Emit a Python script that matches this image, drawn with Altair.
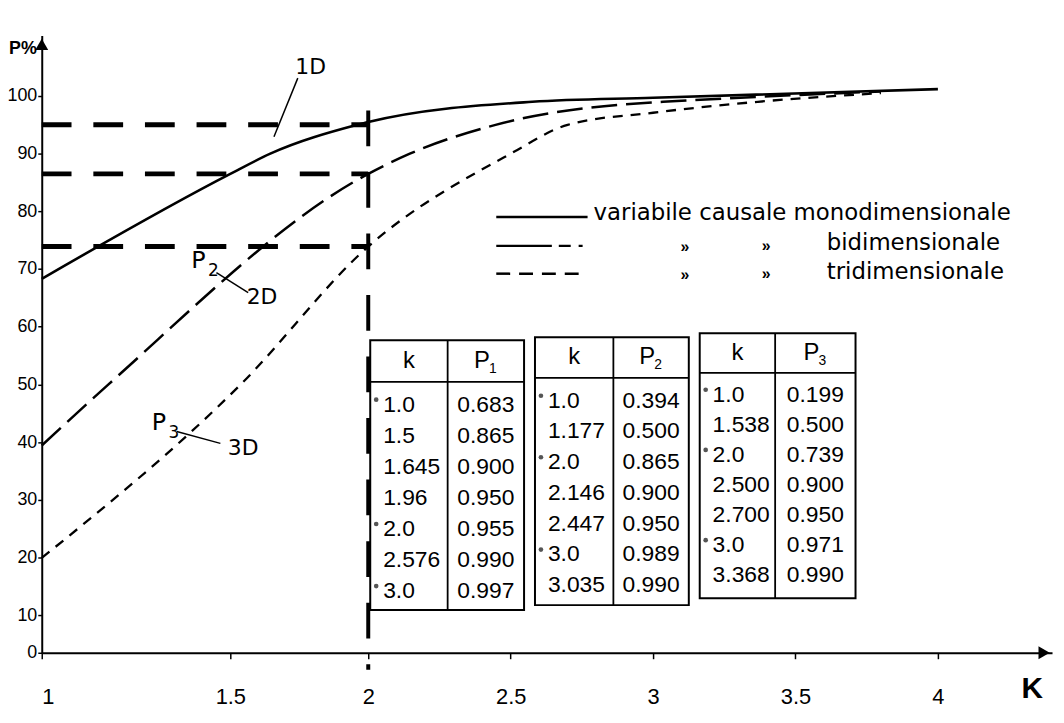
import altair as alt
import numpy as np
import pandas as pd

k1 = [1.0, 1.5, 1.645, 1.96, 2.0, 2.576, 3.0]
p1 = [0.683, 0.865, 0.900, 0.950, 0.955, 0.990, 0.997]
k2 = [1.0, 1.177, 2.0, 2.146, 2.447, 3.0, 3.035]
p2 = [0.394, 0.500, 0.865, 0.900, 0.950, 0.989, 0.990]
k3 = [1.0, 1.538, 2.0, 2.500, 2.700, 3.0, 3.368]
p3 = [0.199, 0.500, 0.739, 0.900, 0.950, 0.971, 0.990]

k1_txt = ["1.0", "1.5", "1.645", "1.96", "2.0", "2.576", "3.0"]
p1_txt = ["0.683", "0.865", "0.900", "0.950", "0.955", "0.990", "0.997"]
k2_txt = ["1.0", "1.177", "2.0", "2.146", "2.447", "3.0", "3.035"]
p2_txt = ["0.394", "0.500", "0.865", "0.900", "0.950", "0.989", "0.990"]
k3_txt = ["1.0", "1.538", "2.0", "2.500", "2.700", "3.0", "3.368"]
p3_txt = ["0.199", "0.500", "0.739", "0.900", "0.950", "0.971", "0.990"]

# where the drawn curves end, in k and %
tail_k = [4.0, 3.8, 3.8]
tail_p = [101.2, 100.8, 100.5]

ref_levels = [95.0, 86.5, 73.9]      # horizontal dashed guides (k from 1 to 2)
ref_k = 2.0                          # vertical dashed guide
x_ticks = [1, 1.5, 2, 2.5, 3, 3.5, 4]
y_ticks = [0, 10, 20, 30, 40, 50, 60, 70, 80, 90, 100]

legend_labels = ["variabile causale monodimensionale", "bidimensionale", "tridimensionale"]
table_headers = ["1", "2", "3"]

# ---------------- layout (the hand-drawn axes are not uniform) ----------------
W, H = 1018, 622
X0, Y0 = 42, 33                       # page position of the plot origin
XDOM, XRNG = [1, 1.5, 2, 4.4007], [0, 190, 329, W]
YDOM, YRNG = [0, 10, 100, 110.5], [H, 584, 61, 0]
FONT = "Liberation Sans"

def _inv(p, rng, dom):
    # piecewise-linear inverse of the scale, extrapolating past both ends
    order = np.argsort(rng)
    r = np.asarray(rng, float)[order]
    d = np.asarray(dom, float)[order]
    if p < r[0]:
        return float(d[0] + (p - r[0]) * (d[1] - d[0]) / (r[1] - r[0]))
    if p > r[-1]:
        return float(d[-1] + (p - r[-1]) * (d[-1] - d[-2]) / (r[-1] - r[-2]))
    return float(np.interp(p, r, d))

def dk(xp):
    return _inv(xp - X0, XRNG, XDOM)

def dp(yp):
    return _inv(yp - Y0, YRNG, YDOM)

xs = alt.Scale(domain=XDOM, range=XRNG, nice=False, zero=False)
ys = alt.Scale(domain=YDOM, range=YRNG, nice=False, zero=False)

def X(f, **kw):
    return alt.X(f, scale=xs, title=None, **kw)

def Y(f, **kw):
    return alt.Y(f, scale=ys, title=None, **kw)

layers = []

# ---------------- curves ----------------
def curve_df(ks, ps, tk, tp):
    return pd.DataFrame({"k": ks + [tk], "P": [v * 100 for v in ps] + [tp]})

c1 = curve_df(k1, p1, tail_k[0], tail_p[0])
c2 = curve_df(k2, p2, tail_k[1], tail_p[1])
c3 = curve_df(k3, p3, tail_k[2], tail_p[2])

axis_common = dict(domainColor="black", domainWidth=2, tickColor="black", tickWidth=1.5,
                   labelColor="black", labelFont=FONT, grid=False, title=None)

layers.append(
    alt.Chart(c1).mark_line(color="black", strokeWidth=2.6, interpolate="monotone").encode(
        x=alt.X("k:Q", scale=xs, title=None,
                axis=alt.Axis(values=x_ticks, format="~g", labelFontSize=22, tickSize=6,
                              labelPadding=28, **axis_common)),
        y=alt.Y("P:Q", scale=ys, title=None,
                axis=alt.Axis(values=y_ticks, format="d", labelFontSize=18, tickSize=4,
                              labelPadding=1, **axis_common)),
    )
)
layers.append(
    alt.Chart(c2).mark_line(color="black", strokeWidth=2.5, strokeDash=[26, 9],
                            interpolate="monotone").encode(x=X("k:Q"), y=Y("P:Q"))
)
layers.append(
    alt.Chart(c3).mark_line(color="black", strokeWidth=2.3, strokeDash=[10, 8],
                            interpolate="monotone").encode(x=X("k:Q"), y=Y("P:Q"))
)

# ---------------- dashed guides ----------------
ref_df = pd.DataFrame({"P": ref_levels, "k1": [1.0] * 3, "k2": [ref_k] * 3})
layers.append(
    alt.Chart(ref_df).mark_rule(color="black", strokeWidth=5, strokeDash=[30, 22]).encode(
        x=X("k1:Q"), x2="k2:Q", y=Y("P:Q"))
)
vdf = pd.DataFrame({"k": [ref_k], "P0": [dp(672)], "P1": [97.5]})
layers.append(
    alt.Chart(vdf).mark_rule(color="black", strokeWidth=4, strokeDash=[36, 26]).encode(
        x=X("k:Q"), y=Y("P1:Q"), y2="P0:Q")
)

# ---------------- axis arrows and axis titles ----------------
arr = pd.DataFrame({"k": [dk(1052), dk(X0)], "P": [dp(Y0 + H), dp(Y0 + 9)],
                    "shape": ["triangle-right", "triangle-up"]})
layers.append(
    alt.Chart(arr).mark_point(filled=True, color="black", size=170, opacity=1).encode(
        x=X("k:Q"), y=Y("P:Q"),
        shape=alt.Shape("shape:N", scale=None, legend=None))
)
ttl = pd.DataFrame({"k": [dk(23), dk(1040)], "P": [dp(47), dp(692)], "t": ["P%", "K"],
                    "s": [18, 30]})
layers.append(
    alt.Chart(ttl).mark_text(font=FONT, fontWeight="bold", color="black").encode(
        x=X("k:Q"), y=Y("P:Q"), text="t:N",
        size=alt.Size("s:Q", scale=None, legend=None))
)

# ---------------- tables ----------------
tables = [
    dict(left=373, right=528, div=451, top=340, hdr=382, bottom=612, row0=405, step=31.3),
    dict(left=539, right=694, div=618, top=337, hdr=378, bottom=607, row0=401, step=31.0),
    dict(left=705, right=862, div=781, top=333, hdr=373, bottom=600, row0=395, step=30.3),
]
k_texts = [k1_txt, k2_txt, k3_txt]
p_texts = [p1_txt, p2_txt, p3_txt]

box_rows, rule_rows, ktxt_rows, ptxt_rows, dot_rows, hdr_rows, sub_rows = [], [], [], [], [], [], []
for t, g in enumerate(tables):
    box_rows.append({"a": dk(g["left"]), "b": dk(g["right"]), "c": dp(g["top"]), "d": dp(g["bottom"])})
    rule_rows.append({"a": dk(g["left"]), "b": dk(g["right"]), "c": dp(g["hdr"]), "d": dp(g["hdr"])})
    rule_rows.append({"a": dk(g["div"]), "b": dk(g["div"]), "c": dp(g["top"]), "d": dp(g["bottom"])})
    hy = (g["top"] + g["hdr"]) / 2
    hdr_rows.append({"k": dk((g["left"] + g["div"]) / 2), "P": dp(hy), "t": "k"})
    pc = (g["div"] + g["right"]) / 2
    hdr_rows.append({"k": dk(pc - 4), "P": dp(hy), "t": "P"})
    sub_rows.append({"k": dk(pc + 7), "P": dp(hy + 8), "t": table_headers[t]})
    for i, (kt, pt) in enumerate(zip(k_texts[t], p_texts[t])):
        yy = g["row0"] + i * g["step"]
        ktxt_rows.append({"k": dk(g["left"] + 13), "P": dp(yy), "t": kt})
        ptxt_rows.append({"k": dk(pc), "P": dp(yy), "t": pt})
        if kt in ("1.0", "2.0", "3.0"):
            dot_rows.append({"k": dk(g["left"] + 6), "P": dp(yy - 5)})

layers.append(
    alt.Chart(pd.DataFrame(box_rows)).mark_rect(fill="white", stroke="black", strokeWidth=2).encode(
        x=X("a:Q"), x2="b:Q", y=Y("c:Q"), y2="d:Q")
)
layers.append(
    alt.Chart(pd.DataFrame(rule_rows)).mark_rule(color="black", strokeWidth=1.8).encode(
        x=X("a:Q"), x2="b:Q", y=Y("c:Q"), y2="d:Q")
)
layers.append(
    alt.Chart(pd.DataFrame(ktxt_rows)).mark_text(font=FONT, fontSize=23, align="left",
                                                 baseline="middle", color="black").encode(
        x=X("k:Q"), y=Y("P:Q"), text="t:N")
)
layers.append(
    alt.Chart(pd.DataFrame(ptxt_rows)).mark_text(font=FONT, fontSize=23, align="center",
                                                 baseline="middle", color="black").encode(
        x=X("k:Q"), y=Y("P:Q"), text="t:N")
)
layers.append(
    alt.Chart(pd.DataFrame(hdr_rows)).mark_text(font=FONT, fontSize=24, align="center",
                                                baseline="middle", color="black").encode(
        x=X("k:Q"), y=Y("P:Q"), text="t:N")
)
layers.append(
    alt.Chart(pd.DataFrame(sub_rows)).mark_text(font=FONT, fontSize=14, align="center",
                                                baseline="middle", color="black").encode(
        x=X("k:Q"), y=Y("P:Q"), text="t:N")
)
layers.append(
    alt.Chart(pd.DataFrame(dot_rows)).mark_circle(color="#555555", size=22, opacity=1).encode(
        x=X("k:Q"), y=Y("P:Q"))
)

# ---------------- legend ----------------
leg_x1, leg_x2 = 500, 592
leg_line_y = [216, 245, 273]
leg_dash = [[1, 0], [56, 7, 12, 8, 4, 100], [14, 9]]
for yy, dash in zip(leg_line_y, leg_dash):
    layers.append(
        alt.Chart(pd.DataFrame({"a": [dk(leg_x1)], "b": [dk(leg_x2)], "c": [dp(yy)]}))
        .mark_rule(color="black", strokeWidth=2.5, strokeDash=dash)
        .encode(x=X("a:Q"), x2="b:Q", y=Y("c:Q"))
    )
leg_txt = pd.DataFrame({
    "k": [dk(598), dk(833), dk(833)],
    "P": [dp(212), dp(242), dp(271)],
    "t": legend_labels,
})
layers.append(
    alt.Chart(leg_txt).mark_text(font="DejaVu Sans", fontSize=23, align="left", baseline="middle",
                                 color="black").encode(x=X("k:Q"), y=Y("P:Q"), text="t:N")
)
ditto = pd.DataFrame({"k": [dk(690), dk(772), dk(690), dk(772)],
                      "P": [dp(246), dp(245), dp(274), dp(273)], "t": ["»"] * 4})
layers.append(
    alt.Chart(ditto).mark_text(font=FONT, fontSize=16, fontWeight="bold", align="center",
                               baseline="middle", color="black").encode(
        x=X("k:Q"), y=Y("P:Q"), text="t:N")
)

# ---------------- hand annotations ----------------
leaders = pd.DataFrame({
    "a": [dk(300), dk(218), dk(178)], "b": [dk(276), dk(250), dk(222)],
    "c": [dp(76), dp(272), dp(432)], "d": [dp(135), dp(292), dp(444)],
})
layers.append(
    alt.Chart(leaders).mark_rule(color="black", strokeWidth=1.5).encode(
        x=X("a:Q"), x2="b:Q", y=Y("c:Q"), y2="d:Q")
)
hand = pd.DataFrame({"k": [dk(313), dk(264), dk(245)], "P": [dp(65), dp(297), dp(449)],
                     "t": ["1D", "2D", "3D"]})
layers.append(
    alt.Chart(hand).mark_text(font="DejaVu Sans", fontSize=22, align="center", baseline="middle",
                              color="black").encode(x=X("k:Q"), y=Y("P:Q"), text="t:N")
)
plab = pd.DataFrame({"k": [dk(200), dk(160)], "P": [dp(260), dp(424)], "t": ["P", "P"]})
layers.append(
    alt.Chart(plab).mark_text(font="DejaVu Sans", fontSize=24, align="center", baseline="middle",
                              color="black").encode(x=X("k:Q"), y=Y("P:Q"), text="t:N")
)
psub = pd.DataFrame({"k": [dk(215), dk(175)], "P": [dp(270), dp(434)], "t": ["2", "3"]})
layers.append(
    alt.Chart(psub).mark_text(font="DejaVu Sans", fontSize=17, align="center", baseline="middle",
                              color="black").encode(x=X("k:Q"), y=Y("P:Q"), text="t:N")
)

chart = alt.layer(*layers).properties(
    width=W, height=H,
    padding={"left": X0 - 8, "top": Y0 - 8, "right": 4, "bottom": 58},
    autosize=alt.AutoSizeParams(type="none"),
    background="white",
).configure_view(stroke=None)

chart.save("out.html", embed_options={"renderer": "svg", "actions": False})
